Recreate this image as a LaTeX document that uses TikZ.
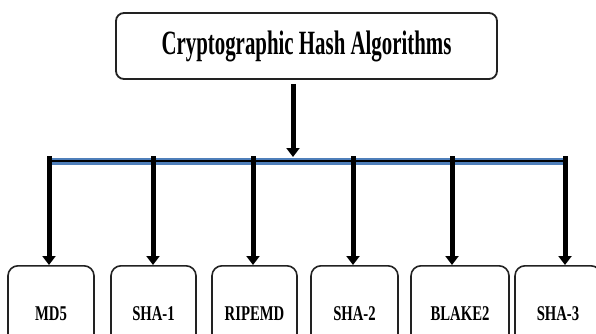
\documentclass[tikz,border=0pt]{standalone}
\usepackage{fontspec}
\setmainfont{Liberation Serif}
\usepackage{graphicx}
\usetikzlibrary{arrows.meta}
\definecolor{barblue}{HTML}{4F7FBA}
\definecolor{edge}{HTML}{222222}
\tikzset{
  topbox/.style={draw=edge, line width=1.8pt, rounded corners=8pt, inner sep=0pt,
    minimum width=381pt, minimum height=66pt},
  leaf/.style={draw=edge, line width=1.6pt, rounded corners=10pt, inner sep=0pt,
    minimum height=95pt, anchor=north},
  arr/.style={draw=black, line width=5pt, -{Triangle[width=13pt,length=9pt]}},
  toplabel/.style={},
}
\newcommand{\toptext}[1]{\scalebox{0.614}[1]{\fontsize{34}{34}\selectfont\bfseries #1}}
\newcommand{\leaftext}[1]{\scalebox{0.70}[1]{\fontsize{21}{21}\selectfont\bfseries #1}}
\begin{document}
\begin{tikzpicture}[x=1pt,y=-1pt]
\useasboundingbox (0,0) rectangle (596,334);
\clip (0,0) rectangle (596,334);
\fill[white] (0,0) rectangle (596,334);

\node[topbox] (tb) at (306.5,46) {\toptext{Cryptographic Hash Algorithms}};

\node[leaf, minimum width=86pt] (md5) at (51,265) {\leaftext{MD5}};
\node[leaf, minimum width=85pt] (sha1) at (153.5,265) {\leaftext{SHA-1}};
\node[leaf, minimum width=85pt] (ripemd) at (254.5,265) {\leaftext{RIPEMD}};
\node[leaf, minimum width=87pt] (sha2) at (354.5,265) {\leaftext{SHA-2}};
\node[leaf, minimum width=98pt] (blake) at (460,265) {\leaftext{BLAKE2}};
\node[leaf, minimum width=86pt] (sha3) at (558,265) {\leaftext{SHA-3}};

\coordinate (barL) at (49,161);
\coordinate (barR) at (565,161);
\draw[barblue, line width=7pt] (barL) -- (barR);
\draw[black, line width=2.6pt] (barL) -- (barR);

\coordinate (a0) at (293,84);
\coordinate (a1) at (293,157);
\draw[arr] (a0) -- (a1);

\coordinate (d1) at (49,156);
\coordinate (d2) at (153,156);
\coordinate (d3) at (253,156);
\coordinate (d4) at (353,156);
\coordinate (d5) at (452,156);
\coordinate (d6) at (565,156);
\draw[arr] (d1) -- (d1 |- md5.north);
\draw[arr] (d2) -- (d2 |- sha1.north);
\draw[arr] (d3) -- (d3 |- ripemd.north);
\draw[arr] (d4) -- (d4 |- sha2.north);
\draw[arr] (d5) -- (d5 |- blake.north);
\draw[arr] (d6) -- (d6 |- sha3.north);
\end{tikzpicture}
\end{document}
